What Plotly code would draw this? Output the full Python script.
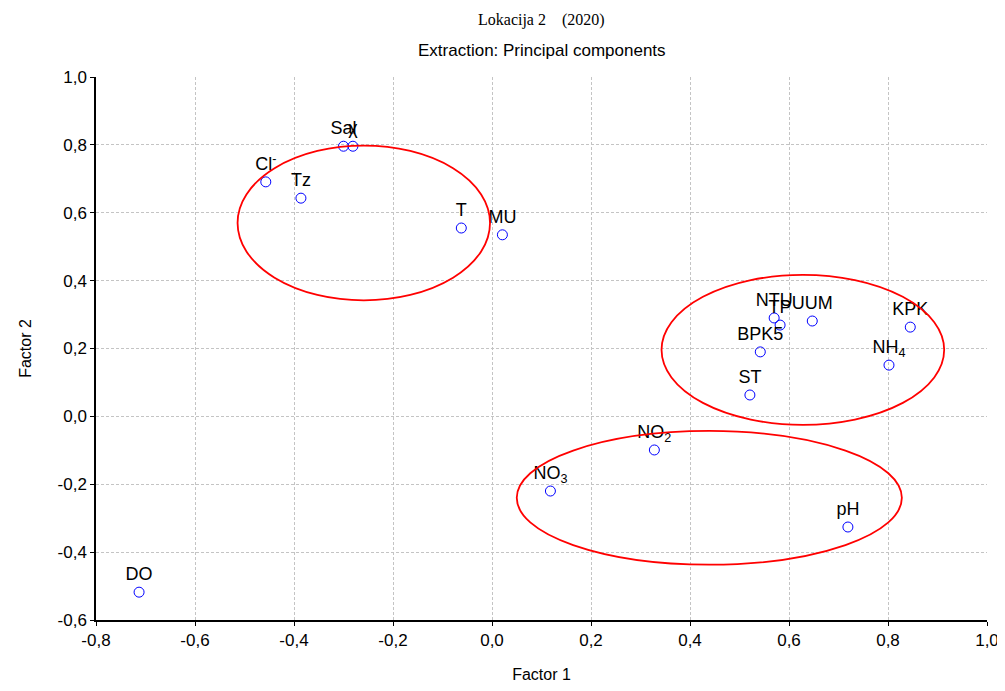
import plotly.graph_objects as go

labels = ["Cl<sup>-</sup>", "Tz", "Sal", "χ", "T", "MU", "NTU", "TP", "UUM", "KPK",
          "BPK5", "NH<sub>4</sub>", "ST", "NO<sub>2</sub>", "NO<sub>3</sub>", "pH", "DO"]
factor1 = [-0.457, -0.386, -0.300, -0.281, -0.062, 0.021, 0.570, 0.582, 0.647, 0.845,
           0.542, 0.802, 0.521, 0.328, 0.118, 0.719, -0.713]
factor2 = [0.691, 0.643, 0.796, 0.796, 0.555, 0.535, 0.290, 0.269, 0.281, 0.263,
           0.190, 0.151, 0.063, -0.099, -0.220, -0.326, -0.518]

# ellipses: (center x, center y, radius x, radius y)
ellipses = [(-0.259, 0.570, 0.255, 0.228),
            (0.628, 0.196, 0.2855, 0.221),
            (0.439, -0.240, 0.389, 0.197)]

xticks = [-0.8, -0.6, -0.4, -0.2, 0.0, 0.2, 0.4, 0.6, 0.8, 1.0]
yticks = [-0.6, -0.4, -0.2, 0.0, 0.2, 0.4, 0.6, 0.8, 1.0]

def fmt(v):
    return f"{v:.1f}".replace(".", ",")

SANS = "Liberation Sans, Arial"

fig = go.Figure()
fig.add_trace(go.Scatter(
    x=factor1, y=factor2, mode="markers+text", text=labels,
    textposition="top center",
    textfont=dict(family=SANS, size=18, color="black"),
    marker=dict(symbol="circle-open", size=10, color="blue", line=dict(width=1)),
    hoverinfo="skip", showlegend=False, cliponaxis=False))

for cx, cy, rx, ry in ellipses:
    fig.add_shape(type="circle", xref="x", yref="y",
                  x0=cx - rx, x1=cx + rx, y0=cy - ry, y1=cy + ry,
                  line=dict(color="red", width=1.8))

axis_common = dict(showgrid=True, gridcolor="#c4c4c4", griddash="3px,2px", gridwidth=1,
                   zeroline=False, showline=True, linecolor="black", linewidth=1.5,
                   ticks="outside", ticklen=4, tickcolor="black",
                   tickfont=dict(family=SANS, size=17, color="black"))

fig.update_xaxes(range=[-0.8, 1.0], tickvals=xticks, ticktext=[fmt(v) for v in xticks],
                 title=dict(text="Factor 1", font=dict(family=SANS, size=16, color="black"), standoff=38),
                 **axis_common)
fig.update_yaxes(range=[-0.6, 1.0], tickvals=yticks, ticktext=[fmt(v) for v in yticks],
                 title=dict(text="Factor 2", font=dict(family=SANS, size=16, color="black"), standoff=22),
                 **axis_common)

fig.add_annotation(text="Lokacija 2&nbsp;&nbsp;&nbsp;&nbsp;(2020)", xref="paper", yref="paper",
                   x=0.5, y=1.0, yanchor="middle", yshift=57, showarrow=False,
                   font=dict(family="Liberation Serif, Times New Roman", size=16, color="black"))
fig.add_annotation(text="Extraction: Principal components", xref="paper", yref="paper",
                   x=0.5, y=1.0, yanchor="middle", yshift=27, showarrow=False,
                   font=dict(family=SANS, size=17, color="black"))

fig.update_layout(width=997, height=675, margin=dict(l=88, r=18, t=69, b=63, autoexpand=False),
                  plot_bgcolor="white", paper_bgcolor="white")
fig.write_html("out.html")
